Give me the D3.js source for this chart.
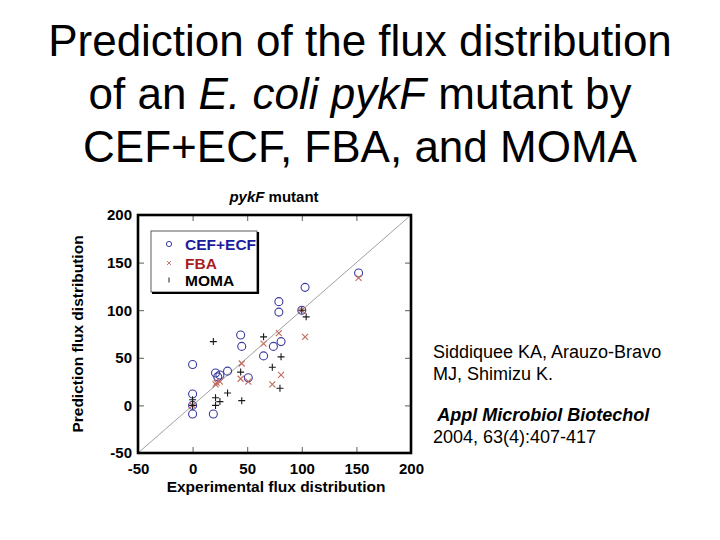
<!DOCTYPE html>
<html><head><meta charset="utf-8">
<script src="https://cdn.jsdelivr.net/npm/d3@7"></script>
<style>body{margin:0;background:#fff}svg{display:block;font-family:Arial,"Liberation Sans",sans-serif}</style>
</head><body><svg id="c" width="720" height="540"></svg>
<script>
const tickValues = [-50, 0, 50, 100, 150, 200];
const seriesNames = ["CEF+ECF", "FBA", "MOMA"];
const cefX = [152,103,79,79,100,44,45,74,81,65,0,21,23,25,32,51,0,0,0,19];
const cefY = [139,124,109,98,100,74,62,62,67,52,43,34,30,32,36,29,12,0,-9,-9];
const fbaX = [152,100,79,103,65,45,44,51,21,22,25,81,73,0];
const fbaY = [134,100,76,72,65,44,28,25,22,24,25,32,22,0];
const momaX = [19,65,104,100,81,73,80,44,32,45,21,25,21,0,0];
const momaY = [67,72,93,100,51,40,18,35,13,5,8,4,0,0,6];

const svg = d3.select("#c");
svg.append("rect").attr("width",720).attr("height",540).attr("fill","#fff");

// Main slide title
const titleLines = [
  [["Prediction of the flux distribution", false]],
  [["of an ", false], ["E. coli", true], [" ", false], ["pykF", true], [" mutant by", false]],
  [["CEF+ECF, FBA, and MOMA", false]]
];
const tBase = [56, 109, 162];
titleLines.forEach((parts, i) => {
  const t = svg.append("text").attr("x", 360).attr("y", tBase[i]).attr("text-anchor","middle")
    .attr("font-size", 44).attr("fill","#000");
  parts.forEach(p => t.append("tspan").text(p[0]).attr("font-style", p[1] ? "italic" : "normal"));
});

const x = d3.scaleLinear().domain([-50, 200]).range([138, 411]);
const y = d3.scaleLinear().domain([-50, 200]).range([453, 215]);

// chart title
const ct = svg.append("text").attr("x", 274).attr("y", 202).attr("text-anchor","middle")
  .attr("font-size", 15).attr("font-weight","bold");
ct.append("tspan").text("pykF").attr("font-style","italic");
ct.append("tspan").text(" mutant");

// diagonal
svg.append("line").attr("x1", x(-50)).attr("y1", y(-50)).attr("x2", x(200)).attr("y2", y(200))
  .attr("stroke","#777").attr("stroke-width",0.7);

// axes
const fmt = d => String(d);
const gB = svg.append("g").attr("transform", `translate(0,${y(-50)})`)
  .call(d3.axisBottom(x).tickValues(tickValues).tickSize(-6).tickPadding(10).tickFormat(fmt));
const gL = svg.append("g").attr("transform", `translate(${x(-50)},0)`)
  .call(d3.axisLeft(y).tickValues(tickValues).tickSize(-6).tickPadding(6).tickFormat(fmt));
const gT = svg.append("g").attr("transform", `translate(0,${y(200)})`)
  .call(d3.axisTop(x).tickValues(tickValues).tickSize(-6).tickFormat(""));
const gR = svg.append("g").attr("transform", `translate(${x(200)},0)`)
  .call(d3.axisRight(y).tickValues(tickValues).tickSize(-6).tickFormat(""));
[gB, gL, gT, gR].forEach(g => {
  g.select(".domain").remove();
  g.selectAll("line").attr("stroke","#333").attr("stroke-width",0.8);
  g.selectAll("text").attr("font-size",15).attr("font-weight","bold").attr("fill","#000")
    .attr("font-family","Arial, Liberation Sans, sans-serif");
});

// axis titles
svg.append("text").attr("x", 276).attr("y", 492).attr("text-anchor","middle")
  .attr("font-size",15.5).attr("font-weight","bold").text("Experimental flux distribution");
svg.append("text").attr("transform","translate(83,334) rotate(-90)").attr("text-anchor","middle")
  .attr("font-size",15.5).attr("font-weight","bold").text("Prediction flux distribution");

// points
const cColor = "#3b3ba0", fColor = "#c46a5c", mColor = "#1a1a1a";
const cef = cefX.map((v,i)=>[v, cefY[i]]);
const fba = fbaX.map((v,i)=>[v, fbaY[i]]);
const moma = momaX.map((v,i)=>[v, momaY[i]]);
svg.append("g").selectAll("circle").data(cef).join("circle")
  .attr("cx", d=>x(d[0])).attr("cy", d=>y(d[1])).attr("r",4)
  .attr("fill","none").attr("stroke",cColor).attr("stroke-width",1.1);
svg.append("g").selectAll("path").data(fba).join("path")
  .attr("transform", d=>`translate(${x(d[0])},${y(d[1])})`)
  .attr("d","M-3,-3L3,3M-3,3L3,-3").attr("stroke",fColor).attr("stroke-width",1.1).attr("fill","none");
svg.append("g").selectAll("path").data(moma).join("path")
  .attr("transform", d=>`translate(${x(d[0])},${y(d[1])})`)
  .attr("d","M-3.5,0L3.5,0M0,-3.5L0,3.5").attr("stroke",mColor).attr("stroke-width",1.1).attr("fill","none");

// frame
svg.append("rect").attr("x", x(-50)).attr("y", y(200)).attr("width", x(200)-x(-50)).attr("height", y(-50)-y(200))
  .attr("fill","none").attr("stroke","#000").attr("stroke-width",2.6);

// legend
const lg = svg.append("g");
lg.append("rect").attr("x",151).attr("y",231).attr("width",106).attr("height",61)
  .attr("fill","#fff").attr("stroke","#333").attr("stroke-width",0.8);
lg.append("line").attr("x1",152).attr("y1",293).attr("x2",258.5).attr("y2",293).attr("stroke","#000").attr("stroke-width",2.2);
lg.append("line").attr("x1",258).attr("y1",232).attr("x2",258).attr("y2",294).attr("stroke","#000").attr("stroke-width",2.2);
const legColors = ["#1c1c9e", "#a81e1e", "#000"];
const legY = [244, 263, 280];
seriesNames.forEach((n,i) => {
  lg.append("text").attr("x",185).attr("y",legY[i]+5.5).attr("font-size",15.5).attr("font-weight","bold")
    .attr("fill",legColors[i]).text(n);
});
lg.append("circle").attr("cx",169).attr("cy",legY[0]).attr("r",2.6).attr("fill","none").attr("stroke",cColor).attr("stroke-width",1);
lg.append("path").attr("transform",`translate(169,${legY[1]})`).attr("d","M-2,-2L2,2M-2,2L2,-2").attr("stroke",fColor).attr("stroke-width",0.9);
lg.append("path").attr("transform",`translate(169,${legY[2]})`).attr("d","M0,-2.5L0,2.5").attr("stroke",mColor).attr("stroke-width",1);

// citation
const cit = [
  ["Siddiquee KA, Arauzo-Bravo", 358, false],
  ["MJ, Shimizu K.", 380, false],
  [" Appl Microbiol Biotechol", 421, true],
  ["2004, 63(4):407-417", 443, false]
];
cit.forEach(c => svg.append("text").attr("x",433).attr("y",c[1]).attr("font-size",18)
  .attr("font-weight", c[2] ? "bold" : "normal").attr("font-style", c[2] ? "italic" : "normal")
  .attr("xml:space","preserve").style("white-space","pre").text(c[0]));
</script></body></html>
